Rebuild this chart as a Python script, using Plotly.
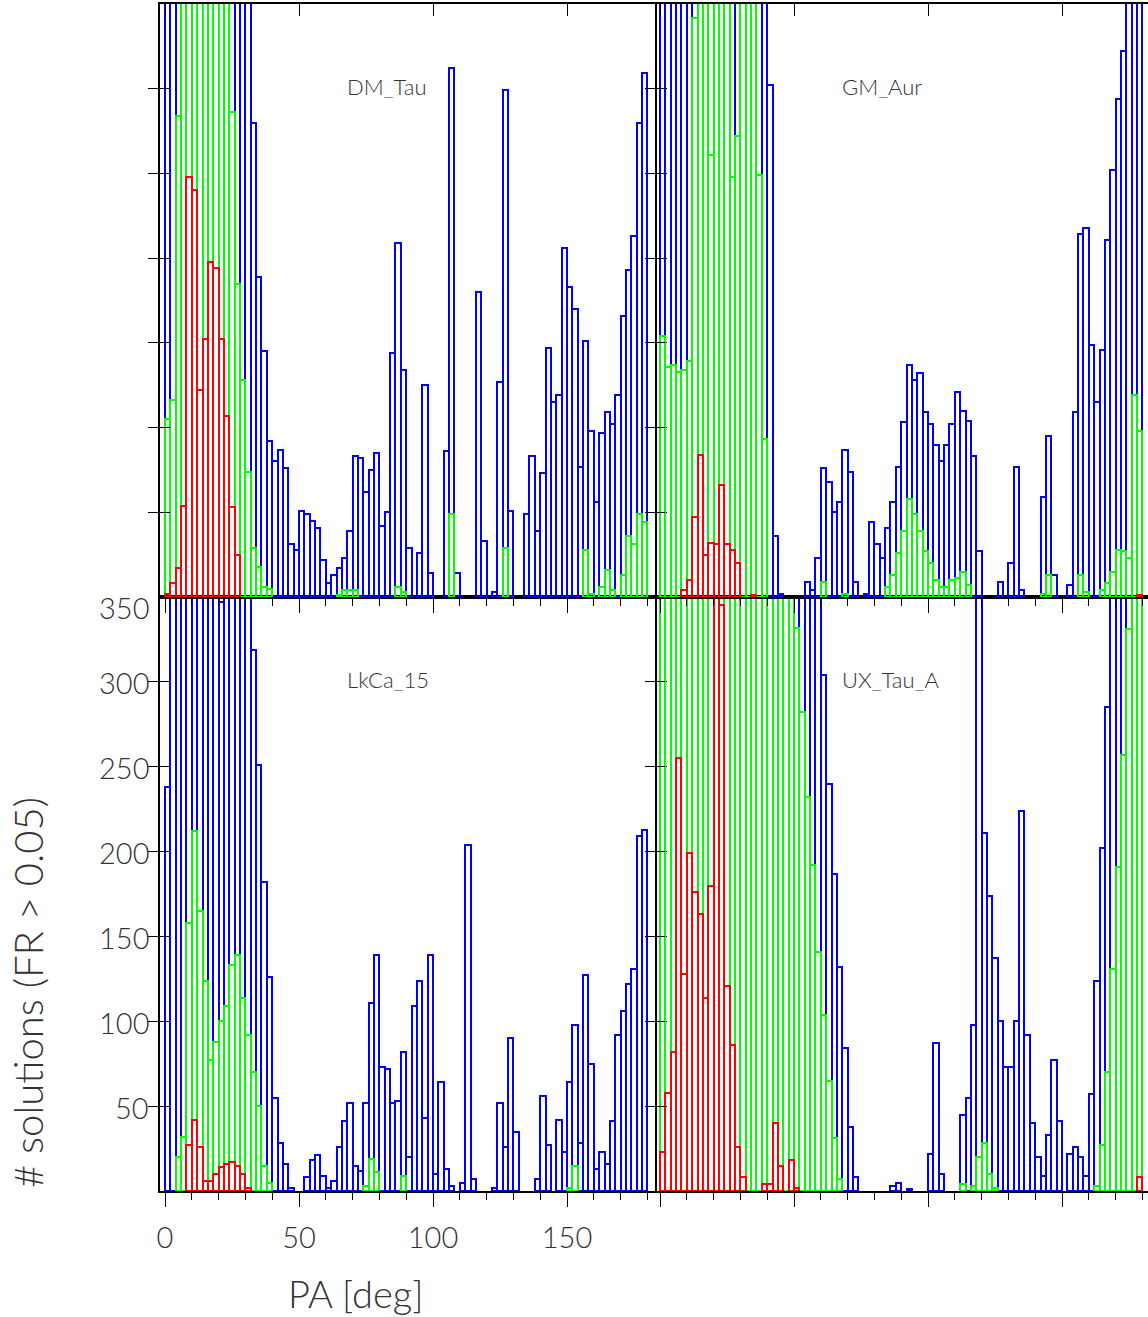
import numpy as np
import plotly.graph_objects as go

# ---------------- data (histograms, 2-deg bins from 0 to 180 deg) ----------------
pa_centers = np.arange(1, 180, 2)  # bin centres [deg]
bin_width = 2

# values above 350 are off the top of the axis (clipped in the original)
dm_blue = [400]*16 + [280, 189, 145, 92, 80, 87, 76, 31, 28, 51, 49, 45, 41, 22, 8, 13, 17, 23, 39, 83,
                      82, 62, 75, 85, 42, 50, 144, 209, 134, 29, 0, 26, 125, 14, 0, 0, 86, 312, 14, 0,
                      0, 0, 180, 33, 0, 3, 127, 299, 51, 0, 0, 49, 83, 39, 73, 147, 115, 119, 206, 183,
                      170, 77, 151, 98, 56, 97, 109, 102, 119, 166, 193, 213, 280, 309]
dm_green = [105, 116, 284] + [400]*9 + [286, 185, 128, 74, 29, 18, 6, 5] + [0]*12 + \
           [1, 4, 4, 4, 0, 0, 0, 0, 0, 0, 0, 6, 3, 0, 0, 0, 0, 0, 0, 0, 0, 49, 0, 0, 0, 0, 0, 0, 0, 0, 0,
            29] + [0]*14 + [28, 2, 0, 6, 16, 4, 0, 13, 36, 31, 49, 44]
dm_red = [2, 8, 17, 54, 248, 240, 122, 152, 198, 194, 152, 107, 53, 25] + [0]*76

gm_blue = [400]*20 + [302, 36, 2, 0, 0, 0, 0, 9, 4, 23, 76, 68, 50, 56, 87, 74, 9, 0, 2, 44,
                      31, 23, 41, 56, 77, 103, 137, 128, 132, 109, 102, 90, 80, 90, 102, 121, 110, 104, 83, 27,
                      0, 0, 0, 9, 0, 20, 77, 4, 0, 0, 0, 59, 95, 13, 0, 0, 7, 109, 214, 218,
                      149, 115, 146, 211, 252, 294, 322, 400, 400, 400]
gm_green = [154, 136, 137, 133, 134, 139, 342, 400, 400, 261, 400, 400, 400, 248, 272, 400, 400, 400, 249, 93] + \
           [0]*10 + [9, 0, 0, 0, 2, 0, 0, 0, 0, 0, 0, 0, 6, 13, 26, 39, 58, 49, 39, 27, 20, 10, 6, 6, 10, 11,
                     15, 7] + [0]*13 + [2, 13, 0, 0, 0, 0, 0, 13, 3, 0, 0, 4, 8, 15, 28, 27, 23, 119, 98]
gm_red = [0, 0, 0, 0, 4, 10, 47, 84, 25, 32, 31, 66, 31, 28, 20, 0, 0, 1] + [0]*71 + [1]

lk_blue = [238] + [400]*9 + [347] + [400]*5 + \
          [319, 251, 182, 126, 55, 28, 16, 2, 0, 0, 8, 18, 21, 9, 2, 6, 26, 41, 52, 15,
           12, 52, 111, 139, 73, 72, 52, 53, 82, 20, 109, 124, 43, 139, 10, 64, 13, 3, 0, 5,
           204, 7, 0, 0, 0, 2, 52, 26, 90, 35, 0, 0, 0, 7, 56, 27, 0, 42, 23, 64,
           98, 28, 127, 75, 13, 23, 16, 41, 92, 106, 122, 131, 209, 213]
lk_green = [0, 0, 20, 32, 158, 212, 165, 124, 77, 88, 100, 109, 133, 139, 114, 92, 70, 50, 15, 5] + \
           [0]*17 + [3, 19, 11, 0, 0, 0, 0, 9] + [0]*30 + [2, 15] + [0]*13
lk_red = [0, 0, 0, 0, 27, 42, 26, 6, 6, 10, 14, 16, 17, 15, 10, 2] + [0]*74

ux_blue = [400]*30 + [304, 240, 187, 132, 84, 38, 8, 0, 0, 0, 0, 0, 0, 3, 5, 0, 1, 0, 0, 0,
                      22, 87, 10, 0, 0, 0, 45, 55, 98, 400, 211, 174, 137, 100, 73, 73, 100, 224, 92, 40,
                      20, 9, 33, 77, 41, 0, 22, 26, 20, 9, 57, 124, 202, 285, 400, 400, 400, 400, 400, 400]
ux_green = [400]*25 + [332, 282, 232, 192, 141, 104, 65, 31, 7] + [0]*22 + \
           [4, 0, 3, 20, 28, 10, 2] + [0]*18 + [3, 27, 70, 131, 191, 257, 331, 400, 400]
ux_red = [23, 58, 82, 255, 128, 199, 176, 163, 114, 180, 400, 345, 121, 86, 26, 8, 0, 0, 0, 4,
          4, 40, 15, 0, 18, 2] + [0]*63 + [8]

panels = [
    # name, xaxis, yaxis, blue, green, red
    ("DM_Tau", "x3", "y3", dm_blue, dm_green, dm_red),
    ("GM_Aur", "x4", "y4", gm_blue, gm_green, gm_red),
    ("LkCa_15", "x", "y", lk_blue, lk_green, lk_red),
    ("UX_Tau_A", "x2", "y2", ux_blue, ux_green, ux_red),
]
series_colors = ["#0000ff", "#00ff00", "#ff0000"]

x_major = [0, 50, 100, 150]
x_tick_labels = ["0", "50", "100", "150"]
y_ticks = [50, 100, 150, 200, 250, 300, 350]
y_tick_labels = ["50", "100", "150", "200", "250", "300", "350"]

# ---------------- figure ----------------
fig = go.Figure()
for name, xa, ya, b, g, r in panels:
    for vals, col in zip([b, g, r], series_colors):
        shown = [v if v > 0 else None for v in vals]   # empty bins are not drawn
        fig.add_trace(go.Bar(
            x=pa_centers, y=shown, width=bin_width, xaxis=xa, yaxis=ya,
            marker=dict(color="rgba(0,0,0,0)", line=dict(color=col, width=2)),
            showlegend=False, hoverinfo="skip"))
# dummy traces to register the top tick axes
for xa, ya in [("x5", "y"), ("x6", "y2"), ("x7", "y3"), ("x8", "y4")]:
    fig.add_trace(go.Scatter(x=[None], y=[None], xaxis=xa, yaxis=ya,
                             showlegend=False, hoverinfo="skip"))

W, H = 1148, 1317
ml, mr, mt, mb = 160, 0, 4, 126
pw, ph = W - ml - mr, H - mt - mb
xsplit = 495 / pw
ysplit = 594 / ph
px_per_deg = 2.68
x0_off = 5 / px_per_deg
left_range = [-x0_off, -x0_off + 495 / px_per_deg]
right_range = [-x0_off, -x0_off + (pw - 495) / px_per_deg]

FONT = "Lato, Open Sans, sans-serif"
tick_font = dict(family=FONT, size=29, color="#333333", weight=300)
axis_line = dict(showline=True, linecolor="black", linewidth=1.5, zeroline=False,
                 showgrid=False, automargin=False)


def xbottom(domain, rng, anchor, labels):
    return dict(domain=domain, range=rng, anchor=anchor, side="bottom",
                tickmode="array", tickvals=x_major, ticktext=x_tick_labels,
                ticks="outside", ticklen=14, tickwidth=1.3, tickcolor="black",
                minor=dict(dtick=10, tick0=0, ticks="outside", ticklen=7, tickwidth=1.3, tickcolor="black"),
                showticklabels=labels, tickfont=tick_font, ticklabelstandoff=6, **axis_line)


def xtop(over, rng, anchor):
    return dict(overlaying=over, range=rng, anchor=anchor, side="top",
                tickmode="array", tickvals=x_major, ticks="inside", ticklen=12, tickwidth=1.3,
                tickcolor="black", showticklabels=False, **axis_line)


def yax(domain, anchor, mirror, line=True):
    d = dict(domain=domain, range=[0, 350], anchor=anchor, tickmode="array", tickvals=y_ticks,
             ticks="inside", ticklen=10, tickwidth=1.3, tickcolor="black",
             showticklabels=False, **axis_line)
    d["showline"] = line
    if mirror:
        d["mirror"] = "allticks"
    return d


fig.update_layout(
    width=W, height=H,
    margin=dict(l=ml, r=mr, t=mt, b=mb, pad=0, autoexpand=False),
    paper_bgcolor="white", plot_bgcolor="white",
    barmode="overlay", bargap=0,
    xaxis=xbottom([0, xsplit], left_range, "y", True),
    yaxis=yax([0, ysplit], "x", True),
    xaxis2=xbottom([xsplit, 1], right_range, "y2", False),
    yaxis2=yax([0, ysplit], "x2", False, line=False),
    xaxis3=xbottom([0, xsplit], left_range, "y3", False),
    yaxis3=yax([ysplit, 1], "x3", True),
    xaxis4=xbottom([xsplit, 1], right_range, "y4", False),
    yaxis4=yax([ysplit, 1], "x4", False, line=False),
    xaxis5=xtop("x", left_range, "y"),
    xaxis6=xtop("x2", right_range, "y2"),
    xaxis7=xtop("x3", left_range, "y3"),
    xaxis8=xtop("x4", right_range, "y4"),
)

# y tick labels of the lower-left panel (the top one sits a little lower, as in the original)
for v, t in zip(y_ticks, y_tick_labels):
    fig.add_annotation(text=t, x=0, y=v, xref="paper", yref="y", xanchor="right", yanchor="middle",
                       xshift=-9, yshift=(-10 if v == 350 else -1), showarrow=False, font=tick_font)

label_font = dict(family=FONT, size=22, color="#333333", weight=300)
for name, xa, ya, *_ in panels:
    fig.add_annotation(text=name, x=67.3, y=300, xref=xa, yref=ya, xanchor="left", yanchor="middle",
                       yshift=2, showarrow=False, font=label_font)

fig.add_annotation(text="PA [deg]", x=(355 - ml) / pw, y=(mt + ph - 1293) / ph,
                   xref="paper", yref="paper", xanchor="center", yanchor="middle",
                   showarrow=False, font=dict(family=FONT, size=38, color="#333333", weight=300))
fig.add_annotation(text="# solutions (FR > 0.05)", x=(28 - ml) / pw, y=(mt + ph - 993) / ph,
                   xref="paper", yref="paper", xanchor="center", yanchor="middle", textangle=-90,
                   showarrow=False, font=dict(family=FONT, size=40, color="#333333", weight=300))

fig.write_html("out.html", config={"displayModeBar": False},
               post_script="document.body.style.margin='0px';")
